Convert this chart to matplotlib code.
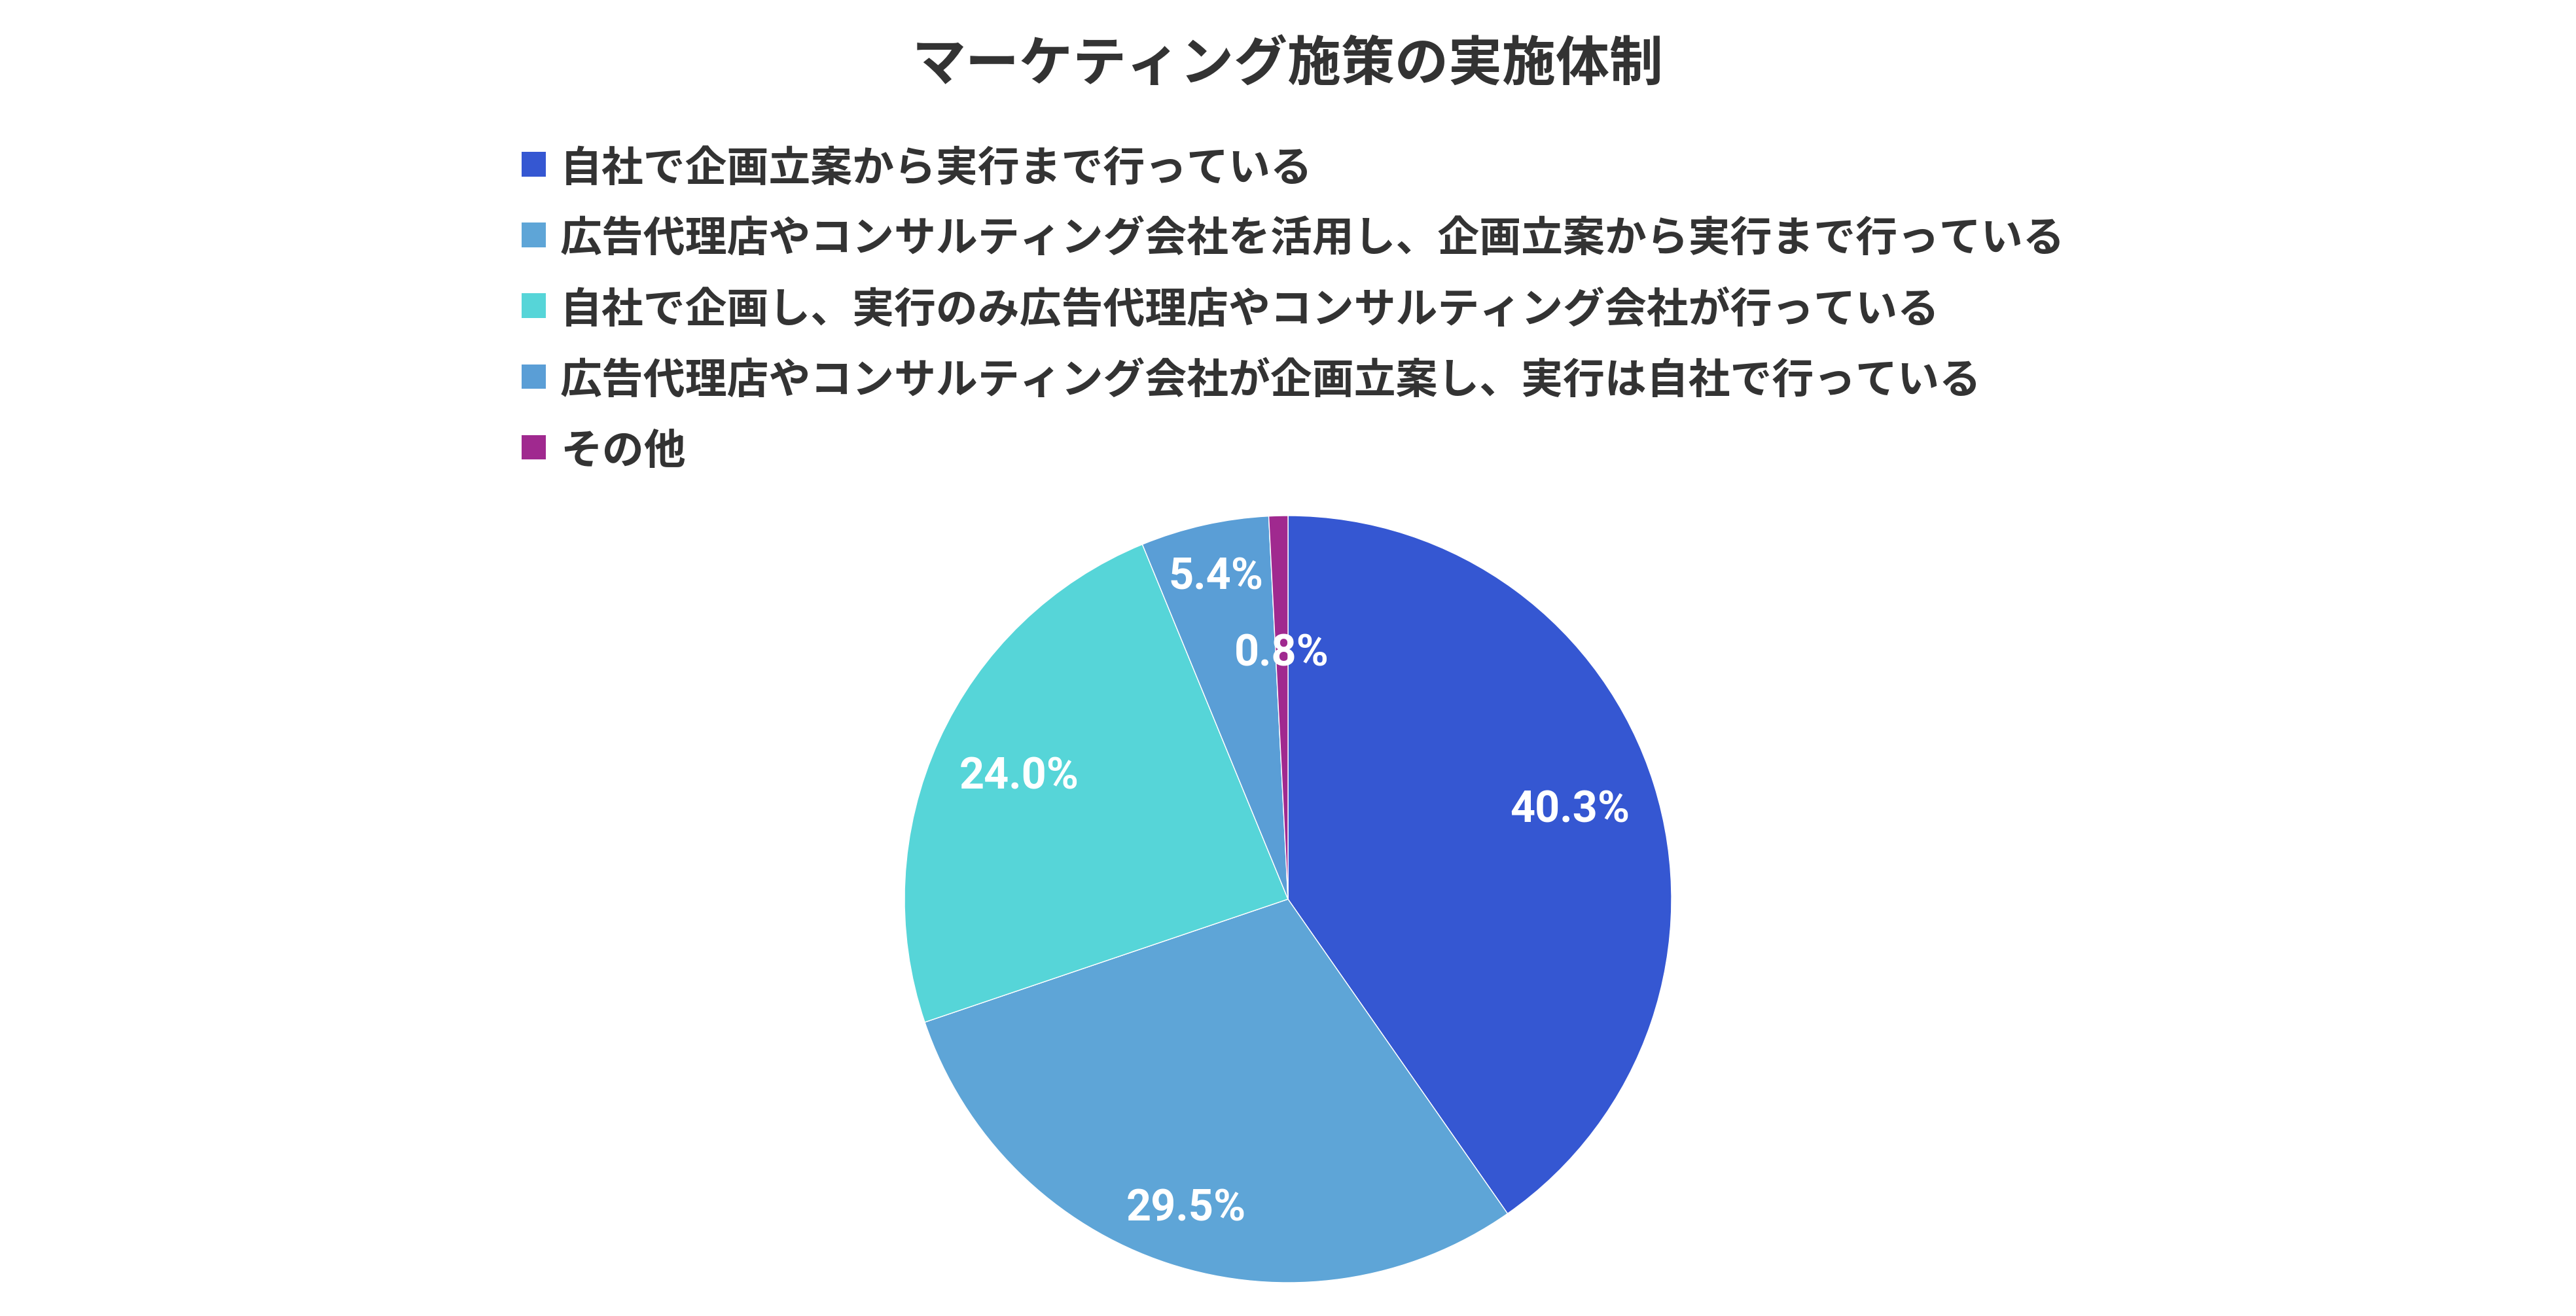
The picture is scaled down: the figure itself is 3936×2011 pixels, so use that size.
import matplotlib.pyplot as plt
from matplotlib.patches import Rectangle
import numpy as np

plt.rcParams['font.family'] = ['Noto Sans CJK JP', 'DejaVu Sans']

# Data
title = "マーケティング施策の実施体制"
labels = [
    "自社で企画立案から実行まで行っている",
    "広告代理店やコンサルティング会社を活用し、企画立案から実行まで行っている",
    "自社で企画し、実行のみ広告代理店やコンサルティング会社が行っている",
    "広告代理店やコンサルティング会社が企画立案し、実行は自社で行っている",
    "その他",
]
values = [40.3, 29.5, 24.0, 5.4, 0.8]
colors = ["#3557D2", "#5EA5D7", "#56D5D8", "#5A9ED6", "#A0298F"]

# label radius (fraction of pie radius) per slice
label_r = [0.77, 0.85, 0.77, 0.86, 0.64]

W, H = 3936, 2011
fig = plt.figure(figsize=(W / 100, H / 100), dpi=100)
text_color = "#333333"

fig.text(0.5, 1 - 100 / H, title, ha='center', va='center',
         fontsize=59, fontweight='bold', color=text_color)

# legend drawn manually
x_box = 797 / W
box = 37
for i, (lab, col) in enumerate(zip(labels, colors)):
    yc = 251 + i * 108
    fig.add_artist(Rectangle((x_box, 1 - (yc + box / 2) / H), box / W, box / H,
                             transform=fig.transFigure, color=col, lw=0))
    fig.text(856 / W, 1 - yc / H, lab, ha='left', va='center_baseline',
             fontsize=46, fontweight='bold', color=text_color)

# pie
cx, cy, r = 1968, 1374, 586
ax = fig.add_axes([(cx - r) / W, (H - cy - r) / H, 2 * r / W, 2 * r / H])
wedges, _ = ax.pie(values, colors=colors, startangle=90, counterclock=False,
                   radius=1, wedgeprops=dict(edgecolor='white', linewidth=1))
ax.set_xlim(-1, 1)
ax.set_ylim(-1, 1)
ax.set_aspect('equal')
ax.axis('off')

for w, v, d in zip(wedges, values, label_r):
    ang = np.radians((w.theta1 + w.theta2) / 2)
    ax.text(d * np.cos(ang), d * np.sin(ang), f"{v:.1f}%", ha='center', va='center',
            fontsize=48, fontweight='bold', color='white',
            family=['Roboto', 'Noto Sans CJK JP'])

fig.savefig("out.png", dpi=100)
